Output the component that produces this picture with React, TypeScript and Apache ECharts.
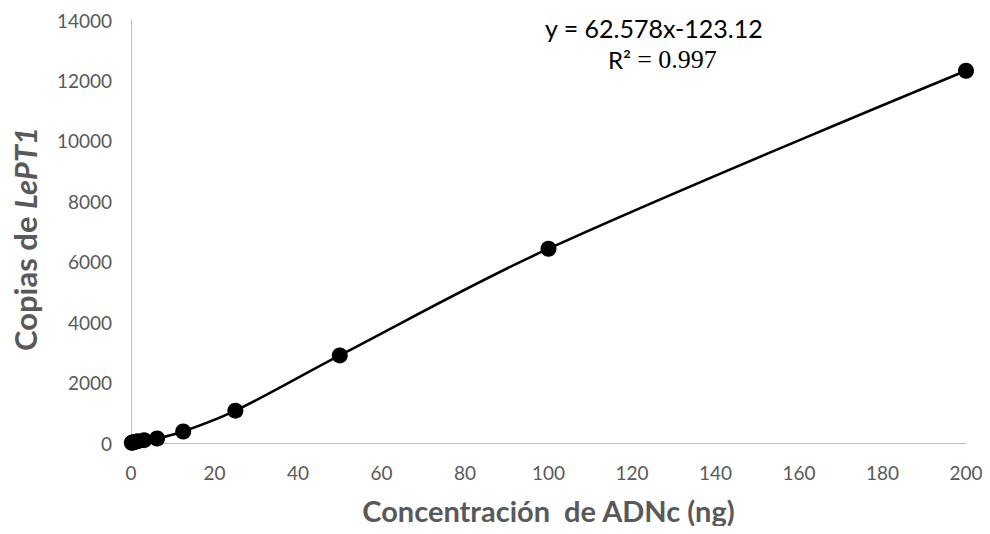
import React, { useEffect, useRef } from "react";
import * as echarts from "echarts";

const concentrations = [0.2, 0.39, 0.78, 1.56, 3.13, 6.25, 12.5, 25, 50, 100, 200];
const copies = [5, 15, 30, 55, 95, 150, 380, 1070, 2900, 6430, 12320];
const equationLine = "y = 62.578x-123.12";
const r2Label = "R² ";
const r2Value = "= 0.997";
const xTitle = "Concentración  de ADNc (ng)";
const yTitleA = "Copias de ";
const yTitleB = "LePT1";

export default function App() {
  const ref = useRef<HTMLDivElement>(null);
  useEffect(() => {
    if (!ref.current) return;
    const chart = echarts.init(ref.current, null, { renderer: "svg" });
    const gray = "#595959";
    chart.setOption({
      animation: false,
      backgroundColor: "#ffffff",
      grid: { left: 131, right: 24, top: 20, bottom: 91, containLabel: false, outerBoundsMode: "none" },
      xAxis: {
        type: "value",
        min: 0,
        max: 200,
        interval: 20,
        name: xTitle,
        nameLocation: "middle",
        nameGap: 53,
        nameTextStyle: { fontFamily: "Lato", fontSize: 29, fontWeight: "bold", color: gray },
        axisLine: { show: true, onZero: false, lineStyle: { color: "#bfbfbf", width: 1 } },
        axisTick: { show: false },
        splitLine: { show: false },
        axisLabel: { fontFamily: "Lato", fontSize: 19, color: gray, margin: 20, formatter: (v: number) => String(v) },
      },
      yAxis: {
        type: "value",
        min: 0,
        max: 14000,
        interval: 2000,
        axisLine: { show: true, lineStyle: { color: "#bfbfbf", width: 1 } },
        axisTick: { show: false },
        splitLine: { show: false },
        axisLabel: { fontFamily: "Lato", fontSize: 19, color: gray, margin: 19, formatter: (v: number) => String(v) },
      },
      series: [
        {
          type: "line",
          data: concentrations.map((x, i) => [x, copies[i]]),
          smooth: 0.35,
          symbol: "circle",
          symbolSize: 16,
          itemStyle: { color: "#000000" },
          lineStyle: { color: "#000000", width: 2.5 },
        },
      ],
      graphic: [
        {
          type: "text",
          x: 25,
          y: 239,
          rotation: Math.PI / 2,
          style: {
            text: `{a|${yTitleA}}{b|${yTitleB}}`,
            align: "center",
            verticalAlign: "middle",
            rich: {
              a: { fontFamily: "Lato", fontSize: 31, fontWeight: "bold", fill: gray },
              b: { fontFamily: "Lato", fontSize: 31, fontWeight: "bold", fontStyle: "italic", fill: gray },
            },
          },
        },
        {
          type: "text",
          left: 545,
          top: 15,
          style: { text: equationLine, fontFamily: "Lato", fontSize: 25, fill: "#000000" },
        },
        {
          type: "text",
          left: 608,
          top: 46,
          style: {
            text: `{a|${r2Label}}{b|${r2Value}}`,
            rich: {
              a: { fontFamily: "Lato", fontSize: 24, fill: "#000000" },
              b: { fontFamily: "Liberation Serif", fontSize: 26, fill: "#000000" },
            },
          },
        },
      ],
    });
    return () => chart.dispose();
  }, []);
  return <div ref={ref} style={{ width: 990, height: 534, margin: -8 }} />;
}
